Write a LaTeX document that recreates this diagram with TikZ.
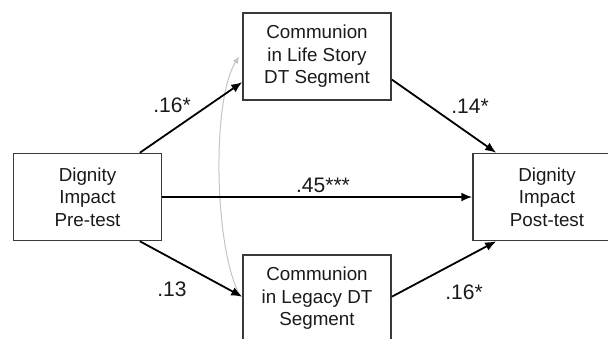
\documentclass[tikz,border=0pt]{standalone}
\usepackage{fontspec}
\setmainfont{Liberation Sans}
\usetikzlibrary{arrows.meta,calc}
\definecolor{boxgray}{HTML}{3A3A3A}
\definecolor{curvegray}{HTML}{C4C4C4}
\definecolor{ink}{HTML}{1A1A1A}
\begin{document}
\begin{tikzpicture}[x=1pt,y=1pt,
  box/.style={draw=boxgray,line width=1.5pt,minimum width=148pt,minimum height=87pt,inner sep=0pt,align=center,text=ink,font=\fontsize{18.8}{22.5}\selectfont},
  patharrow/.style={draw=black,line width=1.8pt,-{Latex[length=11pt,width=9pt]}},
  covarrow/.style={draw=curvegray,line width=1pt,-{Latex[length=7pt,width=6pt]}},
  coef/.style={font=\fontsize{21}{24}\selectfont,inner sep=0pt,anchor=base,text=ink}]
\useasboundingbox (0,0) rectangle (608,-338);
\clip (0,0) rectangle (608,-338);
\node[box] (pre) at (87.5,-197) {Dignity\\Impact\\Pre-test};
\node[box] (life) at (317,-56.5) {Communion\\in Life Story\\DT Segment};
\node[box] (leg) at (317,-298.5) {Communion\\in Legacy DT\\Segment};
\node[box] (post) at (547,-197) {Dignity\\Impact\\Post-test};
\coordinate (covlow) at ($(leg.north west)!0.47!(leg.south west)+(-2,0)$);
\coordinate (covhigh) at ($(life.north west)!0.5!(life.south west)+(-3,0)$);
\draw[covarrow] (covlow) .. controls +(-26,45) and +(-28,-43) .. (covhigh);
\draw[patharrow] ($(pre.north west)!0.85!(pre.north east)$) -- ($(life.north west)!0.79!(life.south west)$);
\draw[patharrow] (pre.east) -- (post.west);
\draw[patharrow] ($(pre.south west)!0.85!(pre.south east)$) -- ($(leg.north west)!0.48!(leg.south west)$);
\draw[patharrow] ($(life.north east)!0.76!(life.south east)$) -- ($(post.north west)!0.16!(post.north east)$);
\draw[patharrow] ($(leg.north east)!0.48!(leg.south east)$) -- ($(post.south west)!0.16!(post.south east)$);
\node[coef] (c1) at (172,-112) {.16*};
\node[coef] (c2) at (470,-113) {.14*};
\node[coef] (c3) at (323,-192) {.45***};
\node[coef] (c4) at (172,-296) {.13};
\node[coef] (c5) at (464,-299) {.16*};
\end{tikzpicture}
\end{document}
